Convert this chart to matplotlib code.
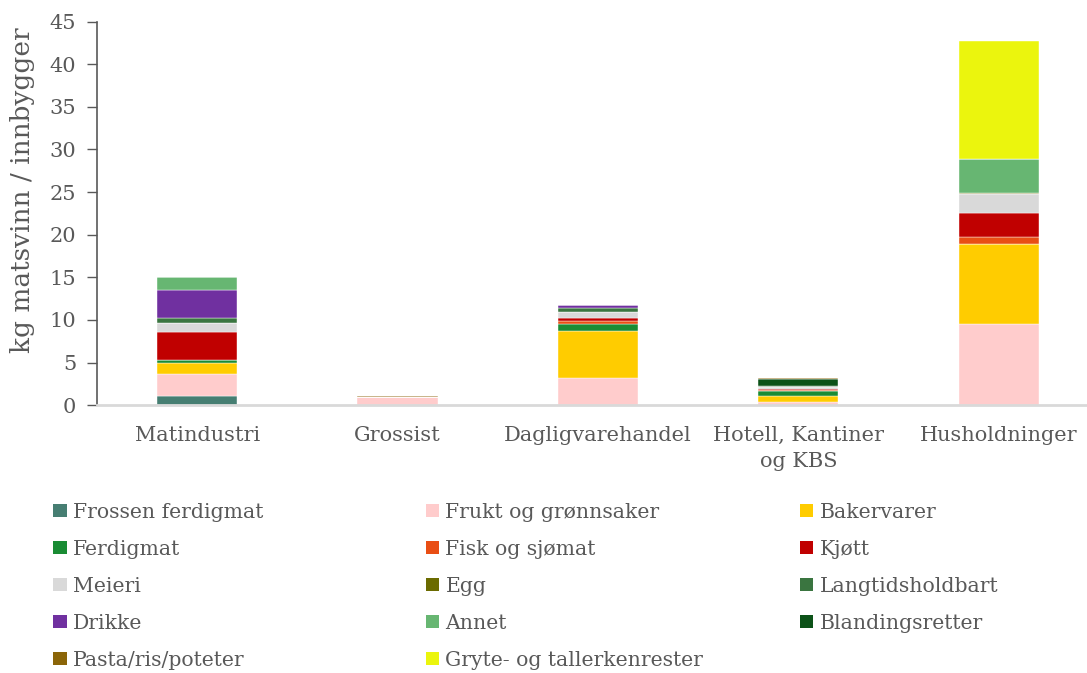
import matplotlib
matplotlib.use("Agg")
import matplotlib.pyplot as plt
import numpy as np
from matplotlib.patches import Patch

OUTPUT_FILE = "out.png"

sectors = ["Matindustri", "Grossist", "Dagligvarehandel",
           "Hotell, Kantiner\nog KBS", "Husholdninger"]

categories = ["Frossen ferdigmat", "Frukt og grønnsaker", "Bakervarer",
              "Ferdigmat", "Fisk og sjømat", "Kjøtt",
              "Meieri", "Egg", "Langtidsholdbart",
              "Drikke", "Annet", "Blandingsretter",
              "Pasta/ris/poteter", "Gryte- og tallerkenrester"]

# kg per inhabitant, one list per category (order follows sectors)
frossen_ferdigmat = [1.10, 0.00, 0.00, 0.00, 0.00]
frukt = [2.50, 0.95, 3.13, 0.35, 9.50]
bakervarer = [1.30, 0.00, 5.58, 0.74, 9.35]
ferdigmat = [0.45, 0.00, 0.82, 0.59, 0.00]
fisk = [0.00, 0.00, 0.32, 0.12, 0.90]
kjott = [3.25, 0.00, 0.35, 0.15, 2.75]
meieri = [1.05, 0.00, 0.74, 0.20, 2.25]
egg = [0.00, 0.00, 0.00, 0.00, 0.10]
langtidsholdbart = [0.60, 0.00, 0.51, 0.07, 0.00]
drikke = [3.20, 0.00, 0.24, 0.00, 0.00]
annet = [1.60, 0.00, 0.00, 0.00, 4.05]
blandingsretter = [0.00, 0.00, 0.00, 0.90, 0.00]
pasta = [0.00, 0.12, 0.00, 0.12, 0.00]
gryte = [0.00, 0.00, 0.00, 0.00, 13.85]

series = [frossen_ferdigmat, frukt, bakervarer, ferdigmat, fisk, kjott,
          meieri, egg, langtidsholdbart, drikke, annet, blandingsretter,
          pasta, gryte]

colors = ["#467E72", "#FFCCCC", "#FFCC00", "#1A8C34", "#E94E14", "#C00000",
          "#D9D9D9", "#6B6B00", "#3A7540", "#7030A0", "#67B672", "#0C5218",
          "#8B6508", "#EBF50D"]

TEXT = "#595959"
plt.rcParams["font.family"] = "DejaVu Serif"

fig = plt.figure(figsize=(10.87, 6.73), dpi=100)
ax = fig.add_axes([0.0892, 0.398, 0.9108, 0.570])

x = np.arange(len(sectors))
bottom = np.zeros(len(sectors))
for vals, col, name in zip(series, colors, categories):
    vals = np.array(vals)
    ax.bar(x, vals, width=0.4, bottom=bottom, color=col, label=name,
           edgecolor="white", linewidth=0.3)
    bottom += vals

ax.set_xlim(-0.5, 4.44)
ax.set_ylim(0, 45)
ax.set_yticks(np.arange(0, 46, 5))
ax.set_xticks(x)
ax.set_xticklabels(sectors, fontsize=15, color=TEXT, linespacing=1.45)
ax.tick_params(axis="x", length=0, pad=15)
ax.tick_params(axis="y", labelsize=15, labelcolor=TEXT, color=TEXT,
               length=7, width=1, pad=8)
fig.text(0.021, 0.718, "kg matsvinn / innbygger", rotation=90,
         ha="center", va="center", fontsize=19, color=TEXT)

for side in ["top", "right"]:
    ax.spines[side].set_visible(False)
ax.spines["left"].set_color(TEXT)
ax.spines["left"].set_linewidth(1.2)
ax.spines["bottom"].set_color("#D9D9D9")
ax.spines["bottom"].set_linewidth(2)

# legend: three columns, filled row by row
handles = [Patch(facecolor=c) for c in colors]
col_x = [0.049, 0.392, 0.736]
for k in range(3):
    idx = list(range(k, len(categories), 3))
    fig.legend([handles[i] for i in idx], [categories[i] for i in idx],
               loc="upper left", bbox_to_anchor=(col_x[k], 0.253),
               frameon=False, fontsize=14.7, labelcolor=TEXT,
               handlelength=0.65, handleheight=0.65, handletextpad=0.3,
               labelspacing=0.88, borderaxespad=0, borderpad=0)

fig.savefig(OUTPUT_FILE, dpi=100)
plt.close(fig)
